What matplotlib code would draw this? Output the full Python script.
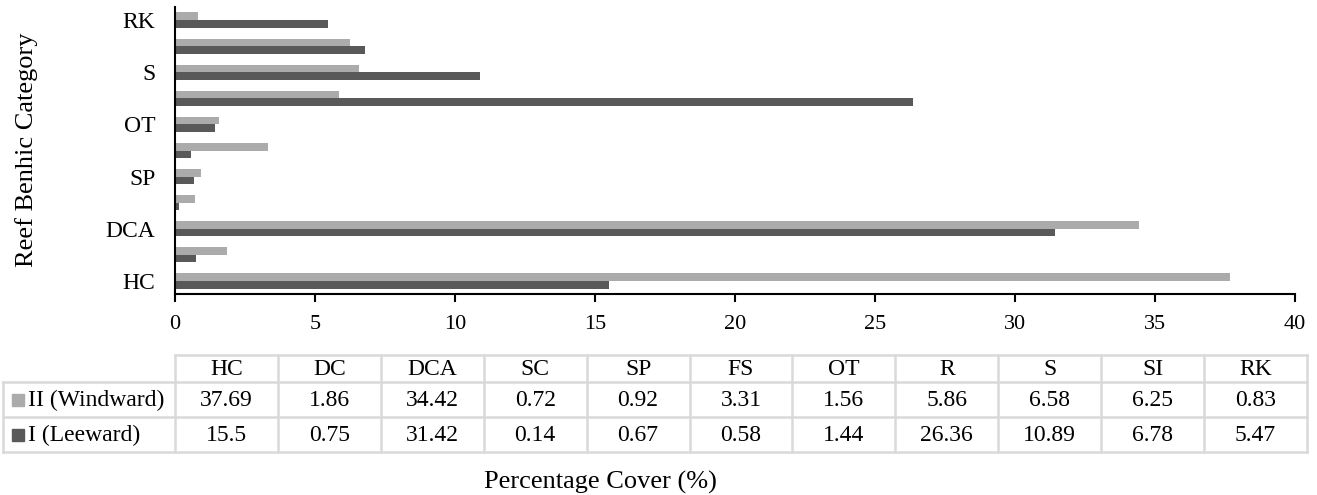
import numpy as np
import matplotlib.pyplot as plt
from matplotlib.patches import Rectangle

plt.rcParams['font.family'] = ['Liberation Serif', 'DejaVu Serif']

# Reef benthic categories, bottom to top on the chart
categories = ["HC", "DC", "DCA", "SC", "SP", "FS", "OT", "R", "S", "SI", "RK"]
windward = [37.69, 1.86, 34.42, 0.72, 0.92, 3.31, 1.56, 5.86, 6.58, 6.25, 0.83]
leeward = [15.5, 0.75, 31.42, 0.14, 0.67, 0.58, 1.44, 26.36, 10.89, 6.78, 5.47]
series_names = ["II (Windward)", "I (Leeward)"]
colors = ["#ababab", "#595959"]

W, H = 1317, 495
fig = plt.figure(figsize=(W / 100, H / 100), dpi=100)

# main bar chart
ax = fig.add_axes([175 / W, (H - 294) / H, 1120 / W, 287 / H])
y = np.arange(len(categories))
bh = 0.29
ax.barh(y + bh / 2, windward, height=bh, color=colors[0])
ax.barh(y - bh / 2, leeward, height=bh, color=colors[1])

ax.set_xlim(0, 40)
ax.set_ylim(-0.5, len(categories) - 0.5)
ax.set_xticks(np.arange(0, 41, 5))
ax.set_yticks(y[::2])
ax.set_yticklabels(categories[::2])
ax.tick_params(axis='y', length=0, pad=14, labelsize=17)
ax.tick_params(axis='x', length=6, width=1.5, direction='out', pad=9,
               labelsize=16)
for s in ["top", "right"]:
    ax.spines[s].set_visible(False)
ax.spines["left"].set_linewidth(1.5)
ax.spines["bottom"].set_linewidth(1.5)

fig.text(27 / W, 1 - 150 / H, "Reef Benhic Category", rotation=90,
         ha='center', va='center', fontsize=19)
fig.text(600 / W, 1 - 482 / H, "Percentage Cover (%)",
         ha='center', va='center', fontsize=19)

# data table below the chart, drawn in pixel coordinates
tax = fig.add_axes([0, 0, 1, 1])
tax.set_xlim(0, W)
tax.set_ylim(H, 0)
tax.axis('off')

lab_x0, col_x0, col_x1 = 3, 175, 1307
row_y = [355, 382, 417, 452]
col_w = (col_x1 - col_x0) / len(categories)
grid = dict(color="#d9d9d9", linewidth=1.8)

# horizontal lines
tax.plot([col_x0, col_x1], [row_y[0], row_y[0]], **grid)
for ry in row_y[1:]:
    tax.plot([lab_x0, col_x1], [ry, ry], **grid)
# vertical lines
tax.plot([lab_x0, lab_x0], [row_y[1], row_y[3]], **grid)
for i in range(len(categories) + 1):
    xx = col_x0 + i * col_w
    tax.plot([xx, xx], [row_y[0], row_y[3]], **grid)

for i, cat in enumerate(categories):
    cx = col_x0 + (i + 0.5) * col_w
    tax.text(cx, (row_y[0] + row_y[1]) / 2 + 1, cat, ha='center',
             va='center', fontsize=17)
    for r, vals in enumerate([windward, leeward]):
        tax.text(cx, (row_y[r + 1] + row_y[r + 2]) / 2 + 1, f"{vals[i]:g}",
                 ha='center', va='center', fontsize=17)

for r, (name, c) in enumerate(zip(series_names, colors)):
    cy = (row_y[r + 1] + row_y[r + 2]) / 2
    tax.add_patch(Rectangle((12, cy - 6), 12, 12, color=c))
    tax.text(28, cy + 1, name, ha='left', va='center', fontsize=17)

fig.savefig("out.png", dpi=100)
